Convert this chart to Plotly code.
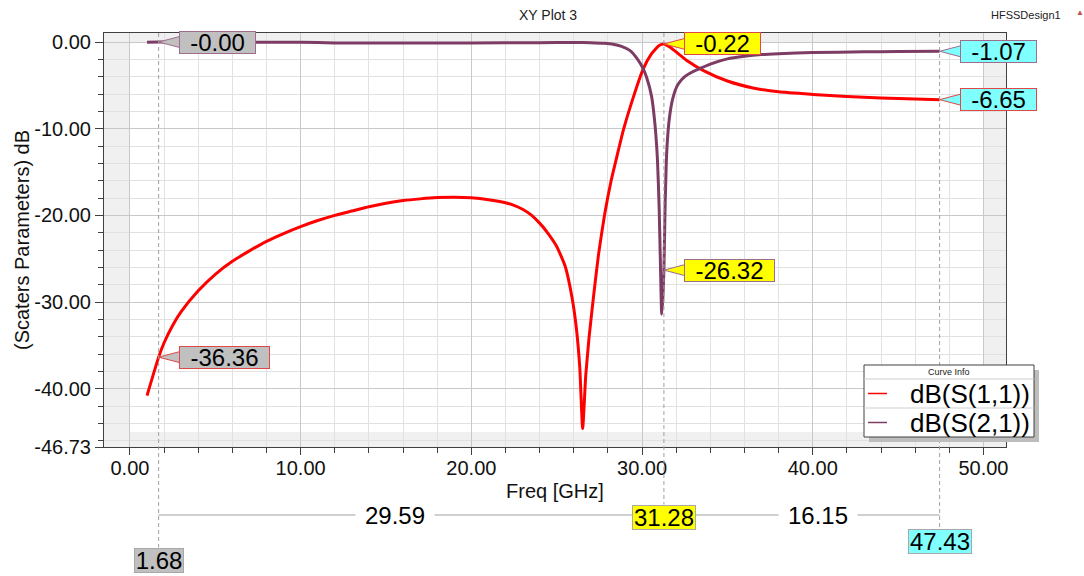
import plotly.graph_objects as go

# ---- S-parameter sweep (frequency in GHz, magnitude in dB) ----
freq_s11 = [1.0, 1.68, 2.0, 2.5, 3.0, 4.0, 5.0, 6.0, 7.0, 8.0, 9.0, 10.0, 11.0, 12.0,
            13.0, 14.0, 15.0, 16.0, 17.0, 18.0, 19.0, 20.0, 21.0, 22.0, 22.5, 23.0,
            23.5, 24.0, 24.5, 25.0, 25.5, 25.9, 26.15, 26.35, 26.52, 26.7, 26.9, 27.15,
            27.45, 27.8, 28.2, 28.6, 28.9, 29.5, 30.07, 30.56, 31.0, 31.28, 31.6, 31.9,
            32.6, 33.6, 35.0, 36.5, 38.0, 40.0, 42.0, 44.0, 46.0, 47.43]
s11_db = [-40.8, -36.36, -34.7, -32.7, -31.1, -28.7, -26.8, -25.3, -24.1, -23.0, -22.1,
          -21.3, -20.6, -20.0, -19.5, -19.0, -18.6, -18.3, -18.1, -17.95, -17.9, -17.98,
          -18.2, -18.55, -18.85, -19.3, -19.95, -20.9, -22.1, -23.6, -25.9, -29.5, -33.0,
          -37.5, -44.6, -38.5, -34.0, -29.5, -24.5, -20.0, -15.9, -12.6, -10.2, -6.3,
          -3.1, -1.35, -0.4, -0.22, -0.55, -1.0, -2.1, -3.3, -4.5, -5.3, -5.75, -6.05,
          -6.3, -6.45, -6.58, -6.65]

freq_s21 = [1.0, 1.68, 5.0, 10.0, 12.0, 16.0, 20.0, 24.0, 26.0, 27.0, 27.8, 28.3, 28.8,
            29.3, 29.7, 30.07, 30.27, 30.56, 30.76, 30.9, 31.0, 31.08, 31.15, 31.22,
            31.28, 31.35, 31.45, 31.6, 31.8, 32.1, 32.5, 33.0, 33.4, 34.0, 35.0, 36.0,
            37.0, 38.0, 40.0, 43.0, 45.0, 47.43]
s21_db = [-0.02, -0.00, -0.02, -0.04, -0.1, -0.1, -0.1, -0.08, -0.06, -0.08, -0.15, -0.25,
          -0.5, -1.0, -1.9, -3.1, -4.1, -6.3, -9.6, -13.5, -19.0, -26.0, -31.4, -29.5,
          -26.32, -19.0, -12.5, -8.8, -6.5, -4.9, -4.0, -3.4, -3.05, -2.55, -1.95, -1.65,
          -1.45, -1.35, -1.22, -1.13, -1.1, -1.07]

# ---- markers ----
marker_freqs = [1.68, 31.28, 47.43]
marker_s11 = [-36.36, -0.22, -6.65]
marker_s21 = [-0.00, -26.32, -1.07]
delta_labels = ["29.59", "16.15"]

# ---- axes ----
x_ticks = [0, 10, 20, 30, 40, 50]
y_ticks = [0.0, -10.0, -20.0, -30.0, -40.0, -46.73]
x_range = [-1.52, 51.32]
y_range = [-46.73, 1.04]

# ---- styling ----
FONT = "Arial, Liberation Sans, sans-serif"
S11_COLOR = "#FF0000"
S21_COLOR = "#7D3C64"
MARKER_FILL = ["#C0C0C0", "#FFFF00", "#80FFFF"]
BOTTOM_BOX_PY = [560, 517, 541]
DELTA_PY = 515

W, H = 1084, 576
ML, MR, MT, MB = 104, 78, 33, 129
PW, PH = W - ML - MR, H - MT - MB


def paper_x(px):
    return (px - ML) / PW


def paper_y(py):
    return (H - MB - py) / PH


def label(px, py, text, size, color="#111", **kw):
    """Free text placed by pixel position, centred unless told otherwise."""
    d = dict(x=paper_x(px), y=paper_y(py), xref="paper", yref="paper",
             xanchor="center", yanchor="middle", showarrow=False, text=text,
             font=dict(family=FONT, size=size, color=color))
    d.update(kw)
    return d


fig = go.Figure()

fig.add_trace(go.Scatter(
    x=freq_s11, y=s11_db, mode="lines", name="dB(S(1,1))", showlegend=False,
    line=dict(color=S11_COLOR, width=3, shape="spline", smoothing=0.5),
    hoverinfo="skip"))
fig.add_trace(go.Scatter(
    x=freq_s21, y=s21_db, mode="lines", name="dB(S(2,1))", showlegend=False,
    line=dict(color=S21_COLOR, width=3, shape="spline", smoothing=0.5),
    hoverinfo="skip"))

shapes = []
annotations = []

# shaded bands outside the nominal sweep window
band = dict(type="rect", layer="below", fillcolor="#F0F0F0", line=dict(width=0))
shapes.append(dict(band, xref="x", yref="paper", x0=x_range[0], x1=0, y0=0, y1=1))
shapes.append(dict(band, xref="x", yref="paper", x0=50, x1=x_range[1], y0=0, y1=1))
shapes.append(dict(band, xref="paper", yref="y", x0=0, x1=1, y0=0, y1=y_range[1]))
shapes.append(dict(band, xref="paper", yref="y", x0=0, x1=1, y0=y_range[0], y1=-45))

# marker lines, readout callouts and frequency tags
for i, fm in enumerate(marker_freqs):
    box_top = paper_y(BOTTOM_BOX_PY[i] - 12.5)
    shapes.append(dict(type="line", xref="x", yref="paper", x0=fm, x1=fm, y0=1, y1=box_top,
                       line=dict(color="#A0A0A0", width=1, dash="4px,3px")))
    for val, edge in ((marker_s11[i], "#E04848"), (marker_s21[i], "#A06C8C")):
        txt = f"{val:.2f}"
        shapes.append(dict(type="path", xref="x", yref="y", xsizemode="pixel",
                           ysizemode="pixel", xanchor=fm, yanchor=val,
                           path="M0,0 L21,5.5 L21,-5.5 Z",
                           fillcolor=MARKER_FILL[i], line=dict(color=edge, width=1)))
        annotations.append(dict(
            x=fm, y=val, xref="x", yref="y", xanchor="left", yanchor="middle",
            xshift=20, showarrow=False, text=txt, align="center",
            width=14 * len(txt) + 5, height=21, bgcolor=MARKER_FILL[i],
            bordercolor=edge, borderwidth=1, borderpad=0,
            font=dict(family=FONT, size=24, color="#000")))
    ftxt = f"{fm:.2f}"
    annotations.append(dict(
        x=fm, y=paper_y(BOTTOM_BOX_PY[i]), xref="x", yref="paper", xanchor="center",
        yanchor="middle", showarrow=False, text=ftxt, width=14 * len(ftxt) - 8,
        height=23, bgcolor=MARKER_FILL[i], bordercolor="#A8A8A8", borderwidth=1,
        borderpad=0, font=dict(family=FONT, size=24, color="#000")))

# delta lines between consecutive markers
mid_box_half = (14 * len(f"{marker_freqs[1]:.2f}") - 6) / 2
for j, lab in enumerate(delta_labels):
    f0, f1 = marker_freqs[j], marker_freqs[j + 1]
    shapes.append(dict(type="line", xref="x", yref="paper", x0=f0, x1=f1,
                       y0=paper_y(DELTA_PY), y1=paper_y(DELTA_PY),
                       line=dict(color="#A0A0A0", width=1)))
    annotations.append(dict(
        x=(f0 + f1) / 2, y=paper_y(DELTA_PY), xref="x", yref="paper",
        xanchor="center", yanchor="middle", showarrow=False, text=lab,
        xshift=(-1 if j == 0 else 1) * mid_box_half / 2,
        bgcolor="#FFFFFF", borderpad=9, font=dict(family=FONT, size=24, color="#000")))

# curve-info box
lx0, lx1, ly0, ly1 = 864, 1034, 365, 437
shapes.append(dict(type="rect", xref="paper", yref="paper", x0=paper_x(lx0 + 5),
                   x1=paper_x(lx1 + 5), y0=paper_y(ly0 + 5), y1=paper_y(ly1 + 5),
                   fillcolor="#BDBDBD", line=dict(width=0)))
shapes.append(dict(type="rect", xref="paper", yref="paper", x0=paper_x(lx0),
                   x1=paper_x(lx1), y0=paper_y(ly0), y1=paper_y(ly1),
                   fillcolor="#FFFFFF", line=dict(color="#404040", width=1)))
for sy in (379, 408):
    shapes.append(dict(type="line", xref="paper", yref="paper", x0=paper_x(lx0),
                       x1=paper_x(lx1), y0=paper_y(sy), y1=paper_y(sy),
                       line=dict(color="#CFCFCF", width=1)))
annotations.append(label((lx0 + lx1) / 2, 372, "Curve Info", 9, "#222"))
for name, color, ry in (("dB(S(1,1))", S11_COLOR, 393.5), ("dB(S(2,1))", S21_COLOR, 422.5)):
    shapes.append(dict(type="line", xref="paper", yref="paper", x0=paper_x(868),
                       x1=paper_x(887), y0=paper_y(ry), y1=paper_y(ry),
                       line=dict(color=color, width=1.5)))
    annotations.append(label(1032, ry, name, 26, "#000", xanchor="right"))

# titles
annotations.append(label(548, 15, "XY Plot 3", 14, "#222"))
annotations.append(label(1063, 15, "HFSSDesign1", 11, "#222", xanchor="right"))
annotations.append(label(1080, 12, "▲", 8, "#C0504D"))
annotations.append(label(555, 491, "Freq [GHz]", 20))
annotations.append(label(22, 240, "(Scaters Parameters) dB", 20, textangle=-90))

axis_common = dict(
    showline=True, linecolor="#404040", linewidth=1, mirror=True, zeroline=False,
    showgrid=True, gridcolor="#C8C8C8", gridwidth=1, ticks="outside",
    tickcolor="#404040", tickfont=dict(family=FONT, size=20, color="#111"),
)
minor_common = dict(tick0=0, dtick=2, ticks="outside", ticklen=5, tickcolor="#404040",
                    showgrid=True, gridcolor="#E1E1E1", gridwidth=1)

fig.update_layout(
    width=W, height=H, autosize=False,
    margin=dict(l=ML, r=MR, t=MT, b=MB, pad=0),
    paper_bgcolor="#FFFFFF", plot_bgcolor="#FFFFFF",
    xaxis=dict(axis_common, range=x_range, tickmode="array", tickvals=x_ticks,
               ticktext=[f"{v:.2f}" for v in x_ticks], ticklen=7,
               ticklabelstandoff=-4, minor=minor_common),
    yaxis=dict(axis_common, range=y_range, tickmode="array", tickvals=y_ticks,
               ticktext=[f"{v:.2f}" for v in y_ticks], ticklen=8,
               minor=minor_common),
    shapes=shapes, annotations=annotations, showlegend=False,
)

fig.write_html("out.html")
